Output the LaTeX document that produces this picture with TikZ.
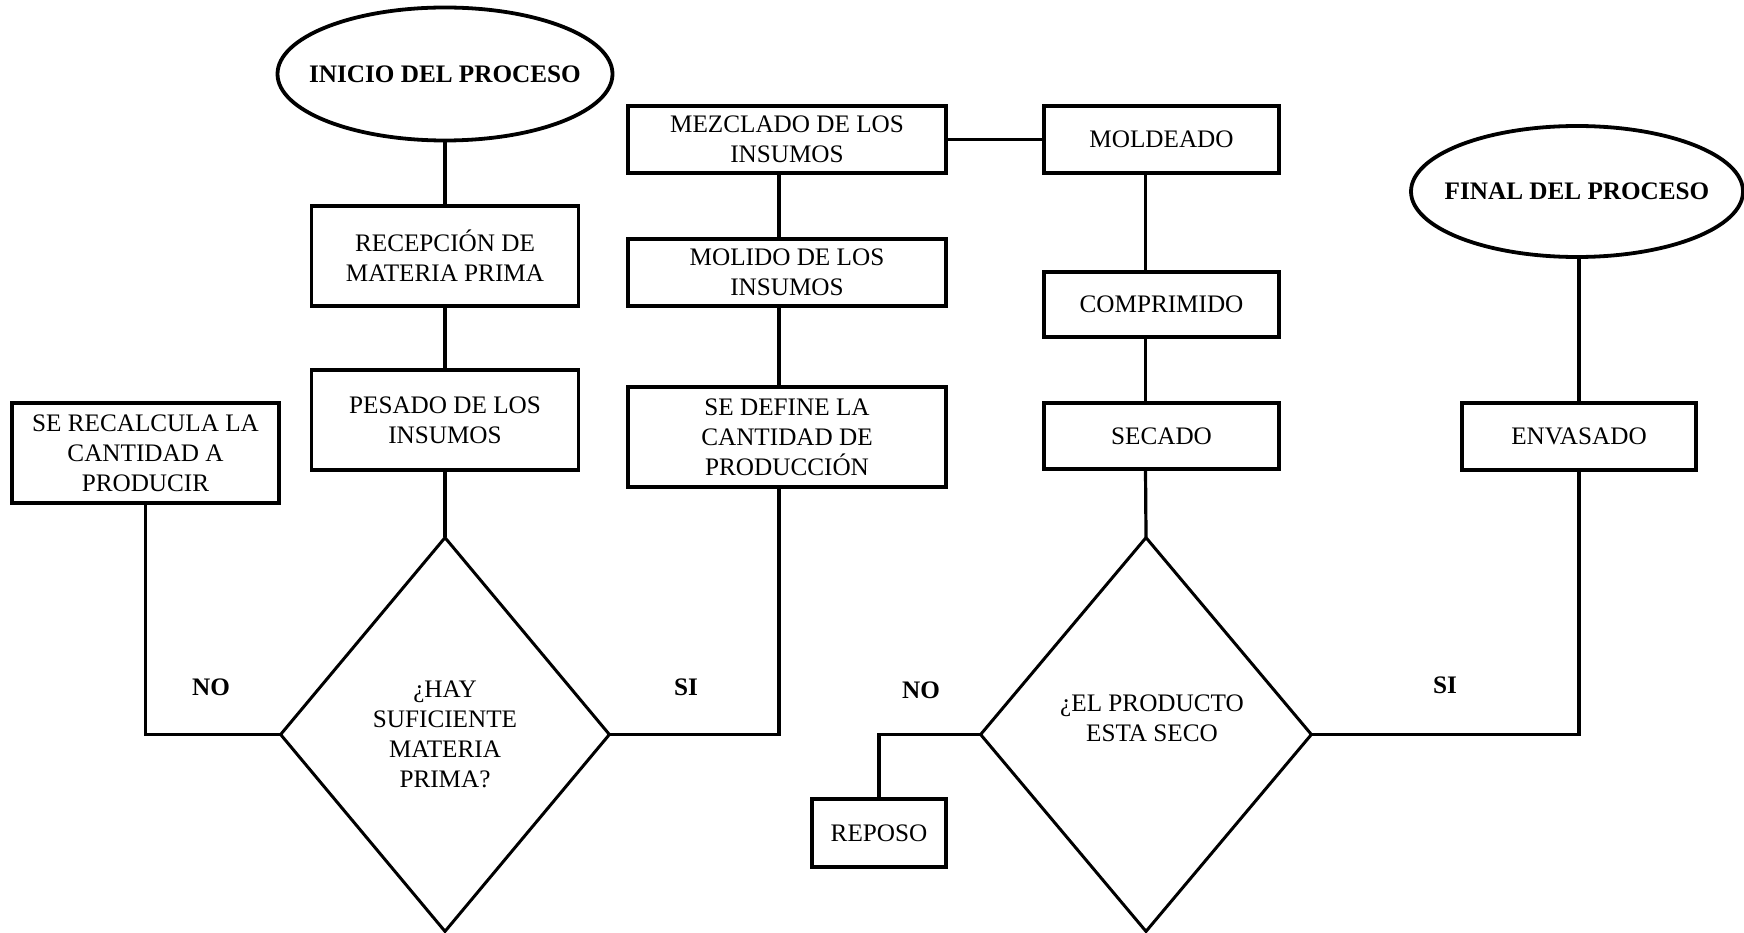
\documentclass[tikz,border=0pt]{standalone}
\usepackage{fontspec}
\setmainfont{Liberation Serif}
\usetikzlibrary{shapes.geometric,calc}

\tikzset{
  base/.style={draw=black, line width=3.3pt, align=center, inner sep=0pt,
               font=\fontsize{25.2}{30}\selectfont},
  stepbox/.style={base, rectangle},
  terminal/.style={base, ellipse, line width=3.8pt},
  decision/.style={base, diamond, line width=3pt},
  plain/.style={inner sep=0pt, align=center, font=\fontsize{25.2}{30}\selectfont},
  title/.style={inner sep=0pt, font=\fontsize{25.2}{30}\selectfont\bfseries},
  answer/.style={inner sep=0pt, font=\fontsize{25.2}{30}\selectfont\bfseries},
  link/.style={line width=3.2pt, line cap=rect}
}

\begin{document}
\begin{tikzpicture}[x=1pt, y=-1pt]
\useasboundingbox[fill=white] (0,0) rectangle (1744,933);

% --- first branch: reception, weighing and stock check
\node[terminal, minimum width=335pt, minimum height=133pt] (inicio) at (445,74) {};
\node[title] (iniciotext) at (445,74) {INICIO DEL PROCESO};
\node[stepbox, minimum width=267pt, minimum height=100pt] (recep) at (445,256) {RECEPCIÓN DE\\MATERIA PRIMA};
\node[stepbox, minimum width=267pt, minimum height=100pt] (pesado) at (445,420) {PESADO DE LOS\\INSUMOS};
\node[stepbox, minimum width=267pt, minimum height=100pt] (recalc) at (145.5,453) {SE RECALCULA LA\\CANTIDAD A\\PRODUCIR};
\node[decision, minimum width=330pt, minimum height=395pt] (d1) at (445,734.5) {¿HAY\\SUFICIENTE\\MATERIA\\PRIMA?};

% --- second column: production quantity, milling, mixing
\node[stepbox, minimum width=318pt, minimum height=100pt] (define) at (787,437) {SE DEFINE LA\\CANTIDAD DE\\PRODUCCIÓN};
\node[stepbox, minimum width=318pt, minimum height=67pt] (molido) at (787,272.5) {MOLIDO DE LOS\\INSUMOS};
\node[stepbox, minimum width=318pt, minimum height=67pt] (mezcla) at (787,139.5) {MEZCLADO DE LOS\\INSUMOS};

% --- third column: moulding, pressing, drying and check
\node[stepbox, minimum width=235pt, minimum height=67pt] (moldeado) at (1161.5,139.5) {MOLDEADO};
\node[stepbox, minimum width=235pt, minimum height=65pt] (comprimido) at (1161.5,304.5) {COMPRIMIDO};
\node[stepbox, minimum width=235pt, minimum height=66pt] (secado) at (1161.5,436) {SECADO};
\node[decision, minimum width=332pt, minimum height=395pt] (d2) at (1146,734.5) {};
\node[plain] (d2text) at (1152,718) {¿EL PRODUCTO\\ESTA SECO};
\node[stepbox, minimum width=134pt, minimum height=68pt] (reposo) at (879,833) {REPOSO};

% --- last column: packing and end
\node[terminal, minimum width=332pt, minimum height=131pt] (final) at (1577,191.5) {};
\node[title] (finaltext) at (1577,191.5) {FINAL DEL PROCESO};
\node[stepbox, minimum width=234pt, minimum height=67pt] (envasado) at (1579,436.5) {ENVASADO};

% --- branch labels
\node[answer] (no1) at (211,687) {NO};
\node[answer] (si1) at (686,687) {SI};
\node[answer] (no2) at (921,690) {NO};
\node[answer] (si2) at (1445,685) {SI};

% --- connectors
\draw[link] (inicio.south) -- (recep.north);
\draw[link] (recep.south) -- (pesado.north);
\draw[link] (pesado.south) -- (d1.north);
\draw[link] (recalc.south) |- (d1.west);
\draw[link] ($(define.south)+(-8,0)$) |- (d1.east);
\draw[link] ($(define.north)+(-8,0)$) -- ($(molido.south)+(-8,0)$);
\draw[link] ($(molido.north)+(-8,0)$) -- ($(mezcla.south)+(-8,0)$);
\draw[link] (mezcla.east) -- (moldeado.west);
\draw[link] ($(moldeado.south)+(-16,0)$) -- ($(comprimido.north)+(-16,0)$);
\draw[link] ($(comprimido.south)+(-16,0)$) -- ($(secado.north)+(-16,0)$);
\draw[link] ($(secado.south)+(-16,0)$) -- (d2.north);
\draw[link] (d2.west) -| (reposo.north);
\draw[link] (d2.east) -| (envasado.south);
\draw[link] (envasado.north) -- (envasado.north |- final.south);
\end{tikzpicture}
\end{document}
